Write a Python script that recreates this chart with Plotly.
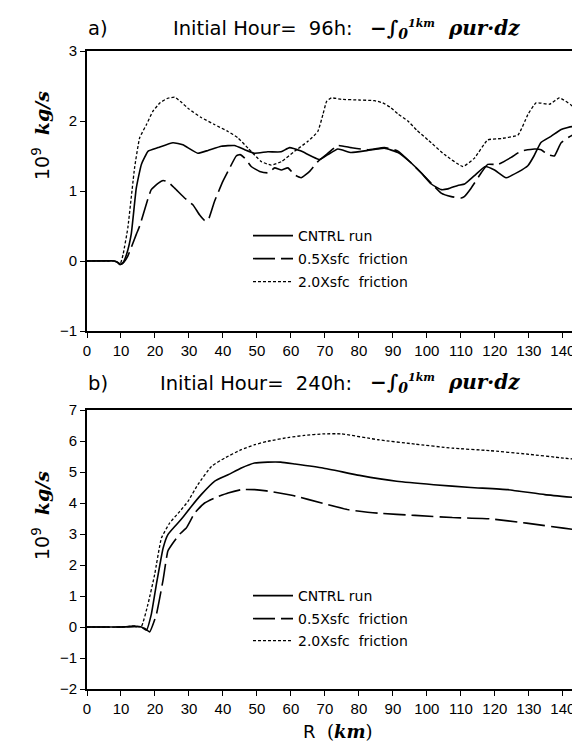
import plotly.graph_objects as go

# ---------- data ----------
# Panel a (Initial hour 96h)
a_cntrl_r = [0, 5, 8, 9, 9.6, 10.5, 11.6, 13, 14.5, 16, 18, 20.9, 25.3, 28.2, 32.6, 35.6, 39.5, 43.4, 46.4,
             49.3, 53.2, 57.1, 59.6, 63, 68.4, 70.9, 73.8, 77.7, 82.6, 87.5, 91.5, 95.4, 98.3, 101.3, 104.2,
             106.2, 109.1, 111.1, 114, 117.2, 119.9, 123.3, 126.8, 129.7, 131.5, 133.5, 136.5, 139.5, 142.9,
             146.9, 148]
a_cntrl_v = [0, 0, 0, -0.02, -0.05, -0.03, 0.09, 0.38, 1.04, 1.38, 1.57, 1.62, 1.69, 1.66, 1.54, 1.58, 1.64,
             1.65, 1.59, 1.54, 1.56, 1.56, 1.62, 1.57, 1.45, 1.52, 1.60, 1.55, 1.58, 1.61, 1.55, 1.40, 1.26,
             1.10, 1.02, 1.03, 1.08, 1.10, 1.22, 1.35, 1.30, 1.19, 1.27, 1.36, 1.50, 1.69, 1.78, 1.88, 1.92,
             1.85, 1.83]

a_half_r = [0, 8, 9, 9.8, 10.8, 12, 14.5, 15.5, 18, 18.9, 20.9, 22.4, 23.8, 25.8, 28.7, 31.2, 33.1, 34.6, 35.6,
            37.5, 40, 42, 43.9, 45, 46.4, 48.3, 50.8, 53.2, 55.2, 57.2, 59.1, 61.1, 63, 65.5, 67.9, 70.9, 73.8,
            77.7, 82.6, 87.5, 91.5, 95.4, 98.3, 101.3, 104.2, 107.2, 110.1, 111, 113, 116, 117.9, 120.9, 124.8,
            127.7, 131.7, 133.6, 135.6, 137.5, 139.5, 143, 145.9, 148]
a_half_v = [0, 0, -0.02, -0.05, -0.02, 0.07, 0.38, 0.5, 0.9, 1.02, 1.11, 1.15, 1.13, 1.04, 0.90, 0.80, 0.66,
            0.58, 0.58, 0.85, 1.14, 1.33, 1.50, 1.52, 1.47, 1.35, 1.28, 1.26, 1.33, 1.30, 1.33, 1.23, 1.19,
            1.28, 1.42, 1.54, 1.65, 1.62, 1.59, 1.62, 1.57, 1.40, 1.26, 1.11, 0.97, 0.92, 0.90, 0.92, 1.04,
            1.26, 1.38, 1.38, 1.48, 1.57, 1.60, 1.59, 1.52, 1.50, 1.69, 1.80, 1.71, 1.68]

a_double_r = [0, 8, 9, 9.8, 10.6, 12, 14, 15.5, 17.5, 19.4, 21.5, 23.5, 25.8, 27.7, 30, 33.6, 37.5, 41.5, 44.4,
              47.4, 51.3, 54.2, 57.2, 61.1, 65, 67.9, 69.4, 70.5, 71.9, 74.8, 80, 84.6, 87, 89.4, 91.5, 94.4,
              97, 100.3, 105.2, 110.6, 114, 117.9, 121.9, 126.8, 129.7, 132.1, 136.1, 139, 142.4, 146.9, 148]
a_double_v = [0, 0, -0.02, -0.04, 0.09, 0.47, 1.33, 1.76, 1.95, 2.14, 2.26, 2.32, 2.34, 2.27, 2.17, 2.05,
              1.95, 1.85, 1.76, 1.61, 1.42, 1.37, 1.42, 1.57, 1.71, 1.85, 2.09, 2.28, 2.33, 2.31, 2.30, 2.29,
              2.26, 2.19, 2.10, 2.00, 1.87, 1.73, 1.52, 1.35, 1.47, 1.73, 1.75, 1.80, 2.09, 2.26, 2.24, 2.33,
              2.23, 2.02, 1.97]

# Panel b (Initial hour 240h)
b_cntrl_r = [0, 10, 14, 16, 17.5, 18.9, 20.4, 22.4, 23.8, 26.3, 28.2, 30.7, 33.6, 37.5, 41.5, 45.4, 49.3, 53.2,
             57, 61.2, 69.4, 80.2, 91.1, 102, 112.9, 123.8, 134.7, 148]
b_cntrl_v = [0, 0, 0.02, 0, -0.1, 0.4, 1.37, 2.55, 2.98, 3.30, 3.54, 3.89, 4.27, 4.70, 4.91, 5.13, 5.29, 5.32,
             5.32, 5.26, 5.13, 4.89, 4.70, 4.59, 4.50, 4.43, 4.27, 4.13]

b_half_r = [0, 10, 14, 17, 18.4, 20.4, 22.4, 23.8, 25.3, 27.3, 29.2, 31.7, 34.6, 37.5, 41.5, 45.4, 49.3, 52.8,
            60.6, 69.4, 77, 85.7, 96.5, 107.5, 118.4, 129.3, 140.2, 148]
b_half_v = [0, 0, 0.02, -0.05, -0.16, 0.4, 1.53, 2.45, 2.71, 3.00, 3.19, 3.68, 4.00, 4.16, 4.32, 4.43, 4.43,
            4.39, 4.24, 3.99, 3.78, 3.67, 3.60, 3.53, 3.49, 3.35, 3.19, 3.07]

b_double_r = [0, 10, 14, 16, 17.9, 19.9, 21.9, 24.3, 27.3, 29.7, 32.6, 36.6, 40.5, 45.4, 49.3, 53.2, 59.6, 64,
              69.4, 74.8, 85.7, 96.5, 107.5, 118.4, 129.3, 140.2, 148]
b_double_v = [0, 0, 0.03, 0.02, 0.72, 1.69, 2.87, 3.35, 3.73, 4.05, 4.59, 5.18, 5.45, 5.72, 5.88, 5.99, 6.12,
              6.18, 6.23, 6.23, 6.04, 5.90, 5.77, 5.69, 5.58, 5.45, 5.37]

series_names = ["CNTRL run", "0.5Xsfc\u00a0 friction", "2.0Xsfc\u00a0 friction"]
x_ticks = list(range(0, 150, 10))
a_yticks = [-1, 0, 1, 2, 3]
b_yticks = [-2, -1, 0, 1, 2, 3, 4, 5, 6, 7]

# ---------- styling ----------
FONT = "Liberation Sans"
LFONT = "DejaVu Sans"
SERIF = "DejaVu Serif"
dashes = ["solid", "22px,6px", "3px,2px"]
widths = [1.6, 1.6, 1.3]

W, HT = 580, 744
ML, MR, MT, MB = 79, 0, 43, 63
PW = W - ML - MR
PH = HT - MT - MB


def px(xpx):
    return (xpx - ML) / PW


def py(ypx):
    return (HT - MB - ypx) / PH


fig = go.Figure()

legend_rows = {"a": [228, 251, 274], "b": [588, 611, 633]}
panels = [
    ("x", "y", "a", [(a_cntrl_r, a_cntrl_v), (a_half_r, a_half_v), (a_double_r, a_double_v)]),
    ("x2", "y2", "b", [(b_cntrl_r, b_cntrl_v), (b_half_r, b_half_v), (b_double_r, b_double_v)]),
]
legend_layouts = {}
k = 0
for xa, ya, key, data in panels:
    for i, (r, v) in enumerate(data):
        k += 1
        lname = "legend" if k == 1 else f"legend{k}"
        fig.add_trace(go.Scatter(
            x=r, y=v, mode="lines", name=series_names[i], xaxis=xa, yaxis=ya, legend=lname,
            line=dict(color="black", width=widths[i], dash=dashes[i], shape="spline", smoothing=0.4),
        ))
        legend_layouts[lname] = dict(
            x=px(240), y=py(legend_rows[key][i]), xanchor="left", yanchor="middle",
            bgcolor="rgba(0,0,0,0)", itemwidth=40,
            font=dict(family=LFONT, size=14, color="black"))

axis_common = dict(showline=True, linecolor="black", linewidth=2, ticks="outside", ticklen=5,
                   tickwidth=1.2, tickcolor="black", showgrid=False, zeroline=False,
                   tickfont=dict(family=FONT, size=15, color="black"))

fig.update_layout(
    width=W, height=HT,
    margin=dict(l=ML, r=MR, t=MT, b=MB),
    paper_bgcolor="white", plot_bgcolor="white",
    xaxis=dict(domain=[0, 1], range=[0, 147.4], tickvals=x_ticks, anchor="y", mirror=True, **axis_common),
    yaxis=dict(domain=[py(323), 1], range=[-1, 3], tickvals=a_yticks, anchor="x", **axis_common),
    xaxis2=dict(domain=[0, 1], range=[0, 147.4], tickvals=x_ticks, anchor="y2", mirror=True, **axis_common),
    yaxis2=dict(domain=[0, py(402)], range=[-2, 7], tickvals=b_yticks, anchor="x2", **axis_common),
    showlegend=True,
    **legend_layouts,
)

formula = ('<b><i>\u2212\u222b<sub>0</sub><sup><span style="font-size:11px">1km</span></sup>'
           '\u00a0 \u03c1ur\u00b7dz</i></b>')
title_font = dict(family=LFONT, size=19.5, color="black")
form_font = dict(family=SERIF, size=20, color="black")


def ann(text, x, y, font, xanchor="left", angle=0):
    fig.add_annotation(text=text, x=px(x), y=py(y), xref="paper", yref="paper", xanchor=xanchor,
                       yanchor="middle", showarrow=False, font=font, textangle=angle)


ann("a)", 78, 21, title_font)
ann("Initial Hour=\u00a0 96h:", 163, 21, title_font)
ann(formula, 360, 21, form_font)
ann("b)", 78, 375, title_font)
ann("Initial Hour=\u00a0 240h:", 150, 375, title_font)
ann(formula, 360, 375, form_font)

ylab = (f'<span style="font-family:{LFONT}">10<sup>9</sup></span>\u00a0 '
        f'<b><i>kg/s</i></b>')
ylab_font = dict(family=SERIF, size=19, color="black")
ann(ylab, 33, 128, ylab_font, xanchor="center", angle=-90)
ann(ylab, 33, 508, ylab_font, xanchor="center", angle=-90)

ann(f'<span style="font-family:{LFONT}">R</span>\u00a0 (<b><i>km</i></b>)', 330, 723,
    dict(family=SERIF, size=18, color="black"), xanchor="center")

fig.write_html("out.html")
